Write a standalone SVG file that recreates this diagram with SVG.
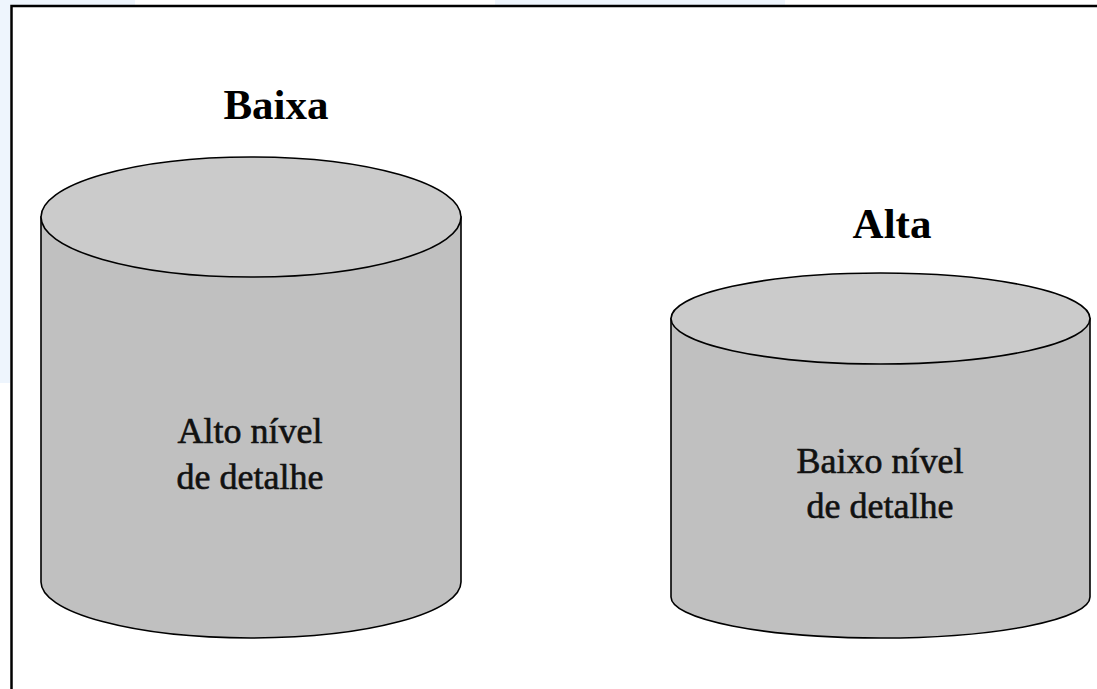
<svg xmlns="http://www.w3.org/2000/svg" width="1097" height="689" viewBox="0 0 1097 689">
<style>
.body{fill:#c0c0c0;stroke:#000;stroke-width:1.6}
.top{fill:#cbcbcb;stroke:#000;stroke-width:1.6}
.title{font-family:"Liberation Serif","Times New Roman",serif;font-weight:bold;font-size:43px;fill:#000;text-anchor:middle}
.lbl{font-family:"Liberation Serif","Times New Roman",serif;font-size:36px;fill:#111;stroke:#111;stroke-width:0.6;text-anchor:middle}
.frame{stroke:#000;stroke-width:2.5;fill:none}
</style>
<rect x="0" y="0" width="1097" height="689" fill="#fff"/>
<rect x="0" y="0" width="10" height="383" fill="#eef5fd"/>
<rect x="0" y="0" width="135" height="5" fill="#eef5fd"/>
<rect x="495" y="0" width="290" height="5" fill="#eef5fd"/>
<path class="frame" d="M11.5,689 V6 H1097"/>
<g id="cyl-baixa">
<path class="body" d="M41,217 V582 A210,56 0 0 0 461,582 V217 Z"/>
<ellipse class="top" cx="251" cy="217" rx="210" ry="60"/>
<text class="title" x="276" y="119">Baixa</text>
<text class="lbl" x="250" y="443">Alto nível</text>
<text class="lbl" x="250" y="489">de detalhe</text>
</g>
<g id="cyl-alta">
<path class="body" d="M671,318.5 V597 A209.5,41 0 0 0 1090,597 V318.5 Z"/>
<ellipse class="top" cx="880.5" cy="318.5" rx="209.5" ry="45.5"/>
<text class="title" x="892" y="238">Alta</text>
<text class="lbl" x="880" y="473">Baixo nível</text>
<text class="lbl" x="880" y="518">de detalhe</text>
</g>
<g id="connectors"></g>
</svg>
